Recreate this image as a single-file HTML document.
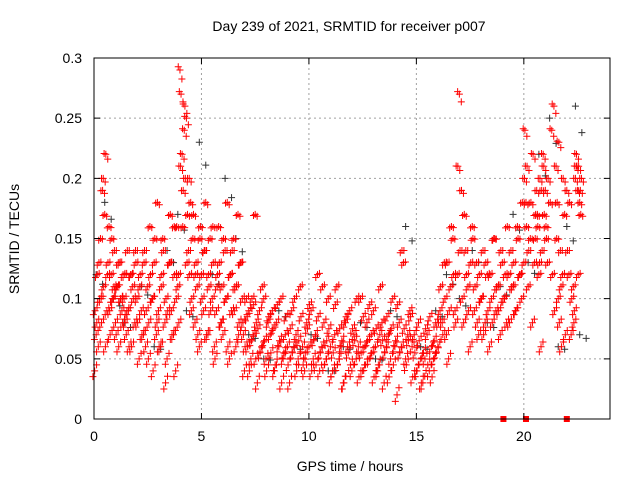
<!DOCTYPE html>
<html><head><meta charset="utf-8"><style>
body{margin:0;background:#fff}
svg text{font-family:"Liberation Sans",sans-serif;font-size:14px;fill:#000}
</style></head><body>
<svg id="chart" width="640" height="480" xmlns="http://www.w3.org/2000/svg">
<rect width="640" height="480" fill="#fff"/>
<text x="349" y="31" text-anchor="middle">Day 239 of 2021, SRMTID for receiver p007</text>
<text x="350" y="471" text-anchor="middle">GPS time / hours</text>
<text transform="translate(19,239) rotate(-90)" text-anchor="middle">SRMTID / TECUs</text>
<g id="grid"></g>
<g id="black"></g>
<g id="red"></g>
<rect x="94" y="58" width="516" height="361" fill="none" stroke="#000" stroke-width="1"/>
<g id="axes"></g>
</svg>
<script>
const xTicks=[0,5,10,15,20];
const yTicks=[0,0.05,0.1,0.15,0.2,0.25,0.3];
const yTickLabels=["0","0.05","0.1","0.15","0.2","0.25","0.3"];
const redHours=[0.05,0.1,0.15,0.2,0.25,0.3,0.35,0.4,0.45,0.5,0.55,0.6,0.65,0.7,0.75,0.8,0.85,0.9,0.95,1.0,1.05,1.1,1.15,1.2,1.25,1.3,1.35,1.4,1.45,1.5,1.55,1.6,1.7,1.75,1.8,1.9,1.95,2.0,2.1,2.15,2.2,2.3,2.35,2.4,2.5,2.55,2.6,2.7,2.75,2.8,2.9,2.95,3.0,3.1,3.15,3.2,3.3,3.35,3.4,3.5,3.55,3.6,3.7,3.75,3.8,3.85,3.9,3.95,4.0,4.05,4.1,4.15,4.2,4.25,4.3,4.35,4.4,4.45,4.5,4.55,4.6,4.7,4.75,4.8,4.9,4.95,5.0,5.1,5.15,5.2,5.3,5.35,5.4,5.5,5.55,5.6,5.7,5.75,5.8,5.9,5.95,6.0,6.1,6.15,6.2,6.3,6.35,6.4,6.5,6.55,6.6,6.7,6.75,6.8,6.9,6.95,7.0,7.1,7.15,7.2,7.3,7.35,7.4,7.5,7.55,7.6,7.7,7.8,7.9,8.0,8.1,8.2,8.3,8.4,8.5,8.6,8.7,8.8,8.9,9.0,9.1,9.2,9.3,9.4,9.5,9.6,9.7,9.8,9.9,10.0,10.1,10.2,10.3,10.4,10.5,10.6,10.7,10.8,10.9,11.0,11.1,11.2,11.3,11.4,11.5,11.6,11.7,11.8,11.9,12.0,12.1,12.2,12.3,12.4,12.5,12.6,12.7,12.8,12.9,13.0,13.1,13.2,13.3,13.4,13.5,13.6,13.7,13.8,13.9,14.0,14.1,14.2,14.3,14.4,14.5,14.6,14.7,14.8,14.9,15.0,15.1,15.2,15.3,15.4,15.5,15.6,15.7,15.8,15.9,16.0,16.1,16.2,16.3,16.4,16.5,16.6,16.7,16.8,16.9,17.0,17.1,17.2,17.3,17.4,17.5,17.6,17.7,17.8,17.9,18.0,18.1,18.2,18.3,18.4,18.5,18.6,18.7,18.8,18.9,19.0,19.1,19.2,19.3,19.4,19.5,19.6,19.7,19.8,19.9,20.0,20.05,20.1,20.15,20.2,20.3,20.4,20.5,20.55,20.6,20.65,20.7,20.75,20.8,20.85,20.9,20.95,21.0,21.05,21.1,21.3,21.4,21.5,21.55,21.6,21.65,21.7,21.75,21.8,21.9,22.0,22.1,22.2,22.3,22.35,22.4,22.45,22.5,22.55,22.6,22.65,22.7];
const redValues=[0.09,0.07,0.12,0.06,0.1,0.15,0.08,0.19,0.11,0.17,0.22,0.09,0.13,0.16,0.07,0.12,0.1,0.1,0.14,0.08,0.11,0.11,0.06,0.13,0.1,0.09,0.12,0.1,0.08,0.07,0.14,0.09,0.12,0.06,0.11,0.08,0.13,0.1,0.05,0.12,0.09,0.07,0.14,0.06,0.11,0.08,0.16,0.1,0.04,0.13,0.07,0.18,0.09,0.06,0.12,0.15,0.08,0.1,0.05,0.13,0.17,0.09,0.07,0.12,0.04,0.16,0.11,0.08,0.29,0.27,0.22,0.19,0.24,0.2,0.25,0.17,0.14,0.12,0.18,0.1,0.15,0.08,0.13,0.11,0.06,0.16,0.12,0.09,0.14,0.18,0.07,0.11,0.15,0.1,0.13,0.06,0.09,0.12,0.16,0.08,0.11,0.07,0.14,0.1,0.18,0.05,0.12,0.09,0.15,0.11,0.06,0.17,0.08,0.13,0.1,0.07,0.04,0.1,0.06,0.09,0.05,0.1,0.07,0.17,0.08,0.03,0.09,0.06,0.1,0.05,0.08,0.07,0.09,0.04,0.08,0.06,0.1,0.05,0.07,0.06,0.03,0.09,0.06,0.07,0.05,0.11,0.06,0.04,0.08,0.06,0.09,0.05,0.07,0.12,0.04,0.06,0.08,0.05,0.1,0.06,0.04,0.07,0.11,0.05,0.06,0.03,0.08,0.06,0.09,0.04,0.07,0.05,0.06,0.1,0.04,0.06,0.08,0.05,0.07,0.09,0.06,0.04,0.07,0.08,0.03,0.06,0.07,0.05,0.1,0.06,0.02,0.08,0.06,0.13,0.05,0.07,0.09,0.06,0.07,0.04,0.08,0.05,0.03,0.05,0.07,0.04,0.06,0.05,0.08,0.06,0.09,0.08,0.13,0.07,0.05,0.11,0.15,0.09,0.12,0.27,0.19,0.08,0.14,0.11,0.06,0.16,0.09,0.13,0.07,0.1,0.14,0.08,0.12,0.06,0.1,0.15,0.09,0.11,0.07,0.13,0.1,0.08,0.12,0.14,0.11,0.09,0.16,0.12,0.1,0.13,0.24,0.18,0.21,0.11,0.15,0.08,0.13,0.17,0.19,0.16,0.12,0.2,0.06,0.14,0.22,0.17,0.19,0.15,0.13,0.24,0.26,0.21,0.18,0.1,0.08,0.14,0.06,0.12,0.17,0.19,0.12,0.07,0.11,0.09,0.2,0.22,0.19,0.21,0.18,0.17];
const redHoursB=[0.03,0.13,0.23,0.33,0.43,0.53,0.63,0.73,0.83,0.93,1.03,1.13,1.23,1.33,1.43,
1.53,1.63,1.73,1.83,1.93,2.03,2.13,2.23,2.33,2.43,2.53,2.63,2.73,2.83,2.93,3.03,3.13,3.23,3.33,3.43,3.53,3.63,3.73,3.83,3.93,
4.03,4.13,4.23,4.33,4.43,4.53,4.63,4.73,4.83,4.93,
5.03,5.13,5.23,5.33,5.43,5.53,5.63,5.73,5.83,5.93,6.03,6.13,6.23,6.33,6.43,6.53,6.63,6.73,6.83,6.93,
7.03,7.13,7.23,7.33,7.43,7.53,7.63,7.73,7.83,7.93,8.03,8.13,8.23,8.33,8.43,8.53,8.63,8.73,8.83,8.93,9.03,9.13,9.23,9.33,9.43,9.53,9.63,9.73,9.83,9.93,10.03,10.13,10.23,10.33,10.43,10.53,10.63,10.73,10.83,10.93,11.03,11.13,11.23,11.33,11.43,11.53,11.63,11.73,11.83,11.93,12.03,12.13,12.23,12.33,12.43,12.53,12.63,12.73,12.83,12.93,13.03,13.13,13.23,13.33,13.43,13.53,13.63,13.73,13.83,13.93,14.03,14.13,14.23,14.33,14.43,14.53,14.63,14.73,14.83,14.93,
15.03,15.13,15.23,15.33,15.43,15.53,15.63,15.73,15.83,15.93,
16.03,16.13,16.23,16.33,16.43,16.53,16.63,16.73,16.83,16.93,17.03,17.13,17.23,17.33,17.43,17.53,17.63,17.73,17.83,17.93,
18.03,18.13,18.23,18.33,18.43,18.53,18.63,18.73,18.83,18.93,19.03,19.13,19.23,19.33,19.43,19.53,19.63,19.73,19.83,19.93,
20.03,20.13,20.23,20.33,20.43,20.53,20.63,20.73,20.83,20.93,21.03,21.13,21.23,
21.33,21.43,21.53,21.63,21.73,21.83,21.93,22.03,22.13,22.23,
22.33,22.43,22.53,22.63,22.68];
const redValuesB=[0.04,0.08,0.13,0.1,0.2,0.06,0.12,0.09,0.15,0.11,0.07,0.13,0.1,0.08,0.12,
0.09,0.06,0.12,0.1,0.14,0.08,0.11,0.07,0.13,0.09,0.05,0.12,0.1,0.15,0.08,0.06,0.11,0.14,0.03,0.09,0.13,0.07,0.16,0.1,0.12,
0.21,0.16,0.26,0.13,0.2,0.09,0.17,0.12,0.07,0.15,
0.1,0.14,0.07,0.12,0.09,0.16,0.05,0.11,0.13,0.08,0.15,0.1,0.06,0.12,0.14,0.09,0.11,0.07,0.13,0.08,
0.06,0.085,0.04,0.065,0.095,0.05,0.075,0.055,0.11,0.065,0.04,0.085,0.055,0.075,0.045,0.095,0.065,0.03,0.055,0.085,0.045,0.075,0.055,0.1,0.04,0.065,0.085,0.045,0.055,0.075,0.095,0.04,0.065,0.045,0.085,0.055,0.11,0.045,0.065,0.075,0.035,0.055,0.095,0.045,0.075,0.065,0.03,0.085,0.055,0.045,0.075,0.065,0.1,0.035,0.055,0.085,0.045,0.065,0.095,0.055,0.035,0.075,0.045,0.11,0.065,0.055,0.085,0.035,0.075,0.045,0.065,0.095,0.055,0.14,0.075,0.045,0.065,0.085,0.035,0.055,
0.04,0.065,0.03,0.055,0.075,0.045,0.085,0.035,0.065,0.055,
0.08,0.11,0.07,0.1,0.13,0.09,0.16,0.12,0.08,0.21,0.14,0.1,0.17,0.12,0.09,0.13,0.15,0.11,0.08,0.12,
0.1,0.07,0.13,0.09,0.12,0.08,0.15,0.11,0.09,0.14,0.1,0.12,0.16,0.08,0.11,0.13,0.09,0.15,0.12,0.18,
0.2,0.16,0.14,0.18,0.22,0.15,0.17,0.13,0.19,0.21,0.16,0.2,0.18,
0.12,0.09,0.15,0.23,0.11,0.2,0.07,0.14,0.18,0.1,
0.08,0.21,0.12,0.19,0.2];
const blackHours=[0.1,0.5,0.9,1.4,2.2,2.8,3.4,3.9,4.3,4.9,5.5,6.1,6.6,7.2,7.9,8.6,9.3,10.1,10.9,11.6,12.4,13.1,13.8,14.5,15.2,15.9,16.4,17.0,17.6,18.3,18.9,19.5,20.2,20.7,21.2,21.6,22.0,22.4,22.6];
const blackValues=[0.12,0.18,0.1,0.08,0.11,0.06,0.14,0.17,0.09,0.23,0.12,0.2,0.15,0.07,0.05,0.09,0.06,0.07,0.04,0.06,0.08,0.05,0.09,0.16,0.06,0.09,0.12,0.1,0.14,0.08,0.11,0.17,0.13,0.22,0.25,0.06,0.16,0.26,0.07];
const markHours=[19.05,20.1,22.0];
const X0=94,X1=609.8,XMAX=24,Y0=419,Y1=58,YMAX=0.3;
const sx=h=>X0+(X1-X0)*h/XMAX;
const sy=v=>Y0-(Y0-Y1)*v/YMAX;
const NS="http://www.w3.org/2000/svg";
function mk(tag,attrs,parent){const e=document.createElementNS(NS,tag);for(const k in attrs)e.setAttribute(k,attrs[k]);parent.appendChild(e);return e;}
const grid=document.getElementById('grid'),axes=document.getElementById('axes');
xTicks.forEach(t=>{const x=sx(t);
 if(t>0){const g=mk('line',{x1:x,x2:x,y1:Y1,y2:Y0,stroke:'#a0a0a0','stroke-dasharray':'2,3'},grid);}
 const tk=mk('path',{d:`M${x} ${Y0}v-6M${x} ${Y1}v6`,stroke:'#000'},axes);
 const l=mk('text',{x:x,y:Y0+22,'text-anchor':'middle'},axes);l.textContent=t;});
yTicks.forEach((t,i)=>{const y=sy(t);
 if(t>0&&t<0.3){const g=mk('line',{x1:X0,x2:X1,y1:y,y2:y,stroke:'#a0a0a0','stroke-dasharray':'2,3'},grid);}
 const tk=mk('path',{d:`M${X0} ${y}h6M${X1} ${y}h-6`,stroke:'#000'},axes);
 const l=mk('text',{x:X0-12,y:y+5,'text-anchor':'end'},axes);l.textContent=yTickLabels[i];});
function plus(h,v,col,parent){const x=sx(h),y=sy(v);const p=mk('path',{d:`M${x-3.5} ${y}h7M${x} ${y-3.5}v7`,stroke:col,'stroke-width':1},parent);return p;}
const bg=document.getElementById('black');
blackHours.forEach((h,i)=>{const p=plus(h,blackValues[i],'#333',bg);
 
 
 const q=plus(h+0.3,blackValues[i]*0.9+0.004,'#333',bg);
 
 });
const rg=document.getElementById('red');
function drawRed(hours,vals){hours.forEach((h,i)=>{const p=plus(h,vals[i],'#ff0000',rg);
 
 
 const q=plus(h+0.09,vals[i]*0.95+0.007,'#ff0000',rg);
 
 
 const r=plus(h-0.08,vals[i]*1.03-0.006,'#ff0000',rg);
 
 });}
drawRed(redHours,redValues);
drawRed(redHoursB,redValuesB);
markHours.forEach(h=>{const r=mk('rect',{x:sx(h)-3,y:Y0-3,width:6,height:6,fill:'#ff0000'},rg);
 
 });
</script>
</body></html>
